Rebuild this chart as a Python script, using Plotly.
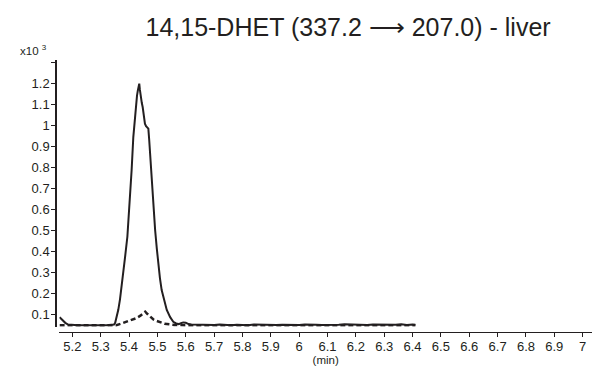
import plotly.graph_objects as go

# ---- data ----
solid_t = [5.155, 5.165, 5.175, 5.185, 5.20, 5.22, 5.24, 5.26, 5.28, 5.30, 5.32, 5.34,
           5.347, 5.351, 5.356, 5.362, 5.368, 5.374, 5.380, 5.386, 5.394, 5.401, 5.409,
           5.415, 5.420, 5.424, 5.428, 5.431, 5.434, 5.436, 5.438, 5.441, 5.445, 5.448,
           5.452, 5.456, 5.460, 5.465, 5.468, 5.471, 5.474, 5.480, 5.486, 5.492, 5.498,
           5.503, 5.509, 5.515, 5.524, 5.533, 5.545, 5.556, 5.566, 5.575, 5.583, 5.591,
           5.60, 5.61, 5.62, 5.64, 5.66, 5.68, 5.70, 5.72, 5.74, 5.76, 5.78, 5.80, 5.82,
           5.84, 5.86, 5.88, 5.90, 5.92, 5.94, 5.96, 5.98, 6.00, 6.02, 6.04, 6.06, 6.08,
           6.10, 6.12, 6.14, 6.16, 6.18, 6.20, 6.22, 6.24, 6.26, 6.28, 6.30, 6.32, 6.34,
           6.36, 6.38, 6.40, 6.41]
solid_y = [0.085, 0.070, 0.058, 0.050, 0.048, 0.047, 0.047, 0.046, 0.047, 0.047, 0.047, 0.048,
           0.050, 0.058, 0.085, 0.120, 0.170, 0.230, 0.300, 0.372, 0.468, 0.595, 0.785,
           0.943, 1.030, 1.100, 1.140, 1.165, 1.185, 1.197, 1.170, 1.133, 1.105, 1.086,
           1.050, 1.007, 0.995, 0.990, 0.983, 0.930, 0.864, 0.705, 0.600, 0.499, 0.410,
           0.341, 0.270, 0.214, 0.160, 0.119, 0.085, 0.063, 0.055, 0.052, 0.056, 0.060,
           0.058, 0.052, 0.050, 0.049, 0.048, 0.049, 0.048, 0.050, 0.048, 0.047, 0.049,
           0.048, 0.047, 0.050, 0.049, 0.048, 0.047, 0.048, 0.049, 0.048, 0.047, 0.048,
           0.050, 0.051, 0.049, 0.048, 0.048, 0.047, 0.049, 0.051, 0.050, 0.048, 0.047,
           0.048, 0.050, 0.049, 0.048, 0.047, 0.049, 0.051, 0.048, 0.050, 0.049]

dash_t = [5.155, 5.18, 5.21, 5.24, 5.27, 5.30, 5.33, 5.355, 5.37, 5.383, 5.395, 5.41,
          5.425, 5.44, 5.45, 5.457, 5.465, 5.475, 5.485, 5.495, 5.51, 5.525, 5.542,
          5.56, 5.60, 5.65, 5.70, 5.80, 5.90, 6.00, 6.10, 6.20, 6.30, 6.41]
dash_y = [0.046, 0.046, 0.046, 0.045, 0.046, 0.046, 0.046, 0.047, 0.053, 0.059, 0.066, 0.074,
          0.080, 0.092, 0.103, 0.111, 0.100, 0.086, 0.075, 0.068, 0.060, 0.054, 0.051,
          0.048, 0.047, 0.046, 0.046, 0.046, 0.046, 0.046, 0.046, 0.046, 0.046, 0.046]

x_ticks = [5.2, 5.3, 5.4, 5.5, 5.6, 5.7, 5.8, 5.9, 6.0, 6.1, 6.2, 6.3, 6.4, 6.5, 6.6, 6.7, 6.8, 6.9, 7.0]
x_labels = ["5.2", "5.3", "5.4", "5.5", "5.6", "5.7", "5.8", "5.9", "6", "6.1", "6.2", "6.3",
            "6.4", "6.5", "6.6", "6.7", "6.8", "6.9", "7"]
y_ticks = [0.1, 0.2, 0.3, 0.4, 0.5, 0.6, 0.7, 0.8, 0.9, 1.0, 1.1, 1.2]
y_labels = ["0.1", "0.2", "0.3", "0.4", "0.5", "0.6", "0.7", "0.8", "0.9", "1", "1.1", "1.2"]
y_extra_tick = [1.3]

INK = "#231f20"
FONT = "Liberation Sans, Arial, sans-serif"

fig = go.Figure()
fig.add_trace(go.Scatter(x=dash_t, y=dash_y, mode="lines",
                         line=dict(color=INK, width=2.5, dash="5px,3px"), showlegend=False))
fig.add_trace(go.Scatter(x=solid_t, y=solid_y, mode="lines",
                         line=dict(color=INK, width=2), showlegend=False))

fig.update_layout(
    width=595, height=368,
    margin=dict(l=56, r=3, t=59.5, b=36),
    paper_bgcolor="white", plot_bgcolor="white",
    font=dict(family=FONT, color=INK, size=13),
    title=dict(text="14,15-DHET (337.2 ⟶ 207.0) - liver", x=0.585, xanchor="center",
               xref="container", y=0.925, yanchor="middle", yref="container",
               font=dict(size=25, family=FONT, color=INK)),
    xaxis=dict(range=[5.154, 7.033], domain=[0.0062, 1], anchor="free", position=0,
               showline=True, linecolor=INK, linewidth=1, showgrid=False, zeroline=False,
               ticks="outside", ticklen=4, tickwidth=1, tickcolor=INK,
               tickvals=x_ticks, ticktext=x_labels, tickfont=dict(size=13),
               ticklabelstandoff=-2,
               title=dict(text="(min)", font=dict(size=11.5), standoff=0)),
    yaxis=dict(range=[0.0396, 1.31], domain=[0.0195, 1], anchor="free", position=0,
               showline=True, linecolor=INK, linewidth=1.5, showgrid=False, zeroline=False,
               ticks="outside", ticklen=4, tickwidth=1, tickcolor=INK,
               tickvals=y_ticks, ticktext=y_labels, tickfont=dict(size=13),
               ticklabelstandoff=-1,
               minor=dict(tickvals=y_extra_tick, ticks="outside", ticklen=4,
                          tickwidth=1, tickcolor=INK, showgrid=False)),
)

fig.add_annotation(text="x10 <sup>3</sup>", xref="paper", yref="paper",
                   x=-0.07, y=1.005, xanchor="left", yanchor="bottom", showarrow=False,
                   font=dict(size=11.5, family=FONT, color=INK))

fig.write_html("out.html")
